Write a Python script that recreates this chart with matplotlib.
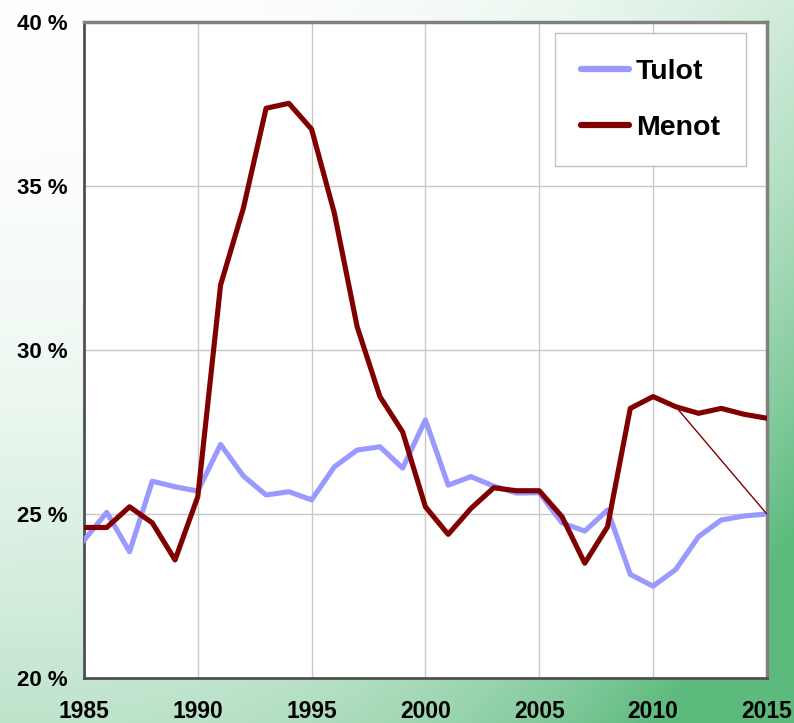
import matplotlib
matplotlib.use("Agg")
import matplotlib.pyplot as plt
import numpy as np

years = list(range(1985, 2016))
tulot = [24.2, 25.05, 23.85, 26.0, 25.83, 25.7, 27.12, 26.16, 25.58, 25.68,
         25.43, 26.44, 26.95, 27.05, 26.4, 27.87, 25.88, 26.14, 25.85, 25.64,
         25.65, 24.73, 24.48, 25.12, 23.16, 22.8, 23.31, 24.31, 24.82, 24.94,
         25.0]
menot = [24.59, 24.59, 25.22, 24.73, 23.6, 25.53, 31.98, 34.32, 37.37, 37.52,
         36.73, 34.17, 30.71, 28.58, 27.5, 25.22, 24.38, 25.17, 25.8, 25.71,
         25.71, 24.92, 23.5, 24.61, 28.22, 28.58, 28.27, 28.07, 28.22, 28.04,
         27.92]
# thin connector drawn in the original from 2011 Menot to 2015 Tulot
connector_years = [2011, 2015]
connector_vals = [28.27, 25.0]

y_ticks = [20, 25, 30, 35, 40]
x_ticks = [1985, 1990, 1995, 2000, 2005, 2010, 2015]

plt.rcParams["font.family"] = ["Liberation Sans", "DejaVu Sans"]

fig = plt.figure(figsize=(7.94, 7.23), dpi=100)

# green gradient background
bg = fig.add_axes([0, 0, 1, 1], zorder=0)
gx, gy = np.meshgrid(np.linspace(0, 1, 400), np.linspace(0, 1, 400))
t = np.clip(0.95 * gx ** 2.5 * (0.3 + 0.7 * gy) + 0.4 * gy ** 2, 0, 1)
green = np.array([0.36, 0.73, 0.49])
img = 1 - t[..., None] * (1 - green)
bg.imshow(img, aspect="auto", extent=[0, 1, 0, 1], origin="upper")
bg.axis("off")

ax = fig.add_axes([0.1058, 0.0622, 0.860, 0.9074], zorder=1)
ax.set_facecolor("white")
ax.plot(years, tulot, color="#9999ff", lw=3.7, label="Tulot", zorder=3)
ax.plot(years, menot, color="#800000", lw=3.7, label="Menot", zorder=4)
ax.plot(connector_years, connector_vals, color="#800000", lw=1.0, zorder=4)

ax.set_xlim(1985, 2015)
ax.set_ylim(20, 40)
ax.set_xticks(x_ticks)
ax.set_yticks(y_ticks)
ax.set_yticklabels([f"{v} %" for v in y_ticks])
ax.tick_params(axis="both", length=0)
ax.tick_params(axis="y", pad=12, labelsize=16)
ax.tick_params(axis="x", pad=16, labelsize=16.5)
for lab in ax.get_xticklabels() + ax.get_yticklabels():
    lab.set_fontweight("bold")
ax.grid(True, color="#c8c8c8", lw=1)
ax.set_axisbelow(True)

for side in ["top", "right"]:
    ax.spines[side].set_color("#808080")
    ax.spines[side].set_linewidth(2.5)
for side in ["left", "bottom"]:
    ax.spines[side].set_color("#505050")
    ax.spines[side].set_linewidth(2)

leg = ax.legend(loc="upper right", bbox_to_anchor=(0.969, 0.983), borderaxespad=0,
                fancybox=False, edgecolor="#c0c0c0", framealpha=1,
                prop={"size": 20.5, "weight": "bold"}, handlelength=1.7,
                handletextpad=0.25, labelspacing=1.05, borderpad=0.9)
leg.get_frame().set_linewidth(1)
for h in leg.get_lines():
    h.set_solid_capstyle("round")
    h.set_linewidth(4.5)

fig.savefig("out.png", dpi=100)
